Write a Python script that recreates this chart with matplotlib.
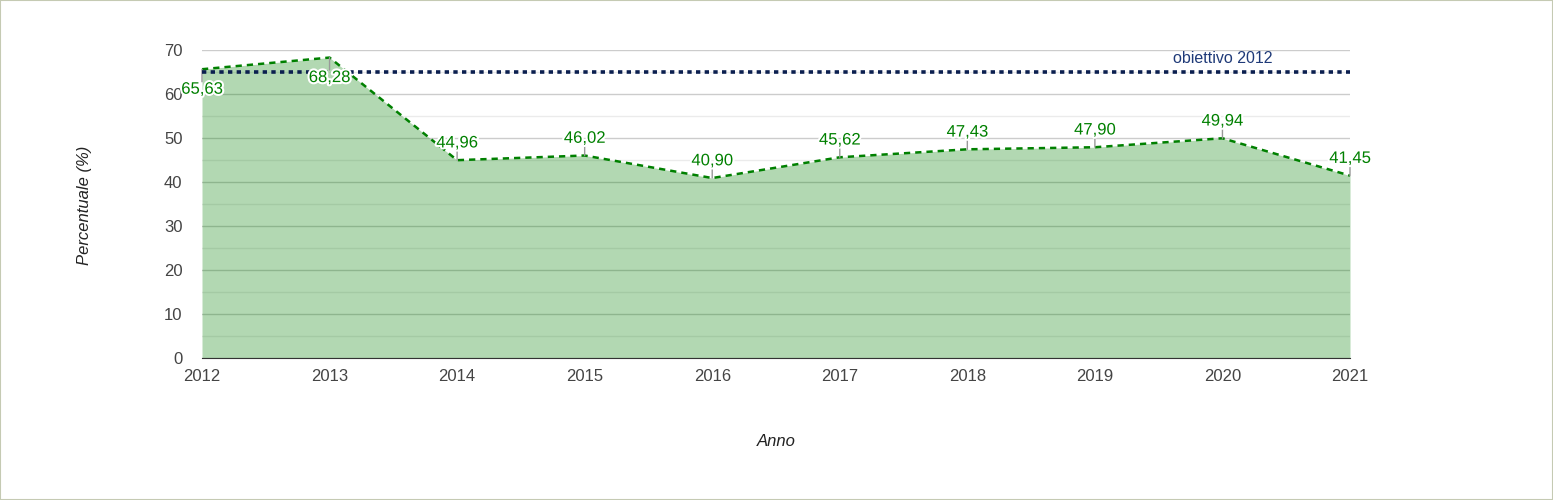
import matplotlib
matplotlib.use("Agg")
from matplotlib import pyplot as plt
from matplotlib import patheffects as pe
from matplotlib.patches import Rectangle
import numpy as np

anni = [2012, 2013, 2014, 2015, 2016, 2017, 2018, 2019, 2020, 2021]
valori = [65.63, 68.28, 44.96, 46.02, 40.90, 45.62, 47.43, 47.90, 49.94, 41.45]
obiettivo = 65
etichetta_obiettivo = "obiettivo 2012"
sotto = [2012, 2013]  # labels drawn under the point

plt.rcParams['font.family'] = ['Liberation Sans', 'DejaVu Sans']

fig = plt.figure(figsize=(15.53, 5), dpi=100)
fig.patches.append(Rectangle((0, 0), 1, 1, transform=fig.transFigure, fill=False,
                             edgecolor='#c5cab3', linewidth=1.5))
ax = fig.add_axes([202/1553, 1-358/500, (1350-202)/1553, 308/500])

ax.set_ylim(0, 70)
ax.set_xlim(anni[0], anni[-1])
ax.set_yticks(np.arange(0, 71, 10))
ax.set_yticks(np.arange(5, 70, 10), minor=True)
ax.set_xticks(anni)
ax.grid(axis='y', which='major', color='#cccccc', linewidth=1)
ax.grid(axis='y', which='minor', color='#ebebeb', linewidth=1)
ax.set_axisbelow(True)

ax.fill_between(anni, valori, 0, color='#008000', alpha=0.3, linewidth=0, zorder=2)
ax.plot(anni, valori, color='#008000', linestyle=(0, (2.5, 2)), linewidth=1.8, zorder=3)
ax.axhline(obiettivo, color='#0b1f4f', linestyle=(0, (1.2, 1.2)), linewidth=2.6, zorder=4)
ax.text(2020, obiettivo + 1.3, etichetta_obiettivo, color='#1f3a78', fontsize=11.5,
        ha='center', va='bottom', zorder=5)

halo = [pe.withStroke(linewidth=3, foreground='white')]
for a, v in zip(anni, valori):
    testo = f"{v:.2f}".replace('.', ',')
    if a in sotto:
        ax.annotate('', xy=(a, v), xytext=(0, -9), textcoords='offset points',
                    arrowprops=dict(arrowstyle='-', color='#999999', lw=1, shrinkA=0, shrinkB=0))
        ax.annotate(testo, xy=(a, v), xytext=(0, -9), textcoords='offset points',
                    ha='center', va='top', color='#008000', fontsize=12,
                    path_effects=halo, zorder=6)
    else:
        ax.annotate('', xy=(a, v), xytext=(0, 8), textcoords='offset points',
                    arrowprops=dict(arrowstyle='-', color='#999999', lw=1, shrinkA=0, shrinkB=0))
        ax.annotate(testo, xy=(a, v), xytext=(0, 7), textcoords='offset points',
                    ha='center', va='bottom', color='#008000', fontsize=12,
                    path_effects=halo, zorder=6)

for s in ['top', 'right', 'left']:
    ax.spines[s].set_visible(False)
ax.spines['bottom'].set_color('#333333')
ax.tick_params(axis='both', which='both', length=0, labelsize=12, labelcolor='#444444')
ax.tick_params(axis='x', pad=8)
ax.tick_params(axis='y', pad=14)

fig.text(85/1553, 1-205/500, 'Percentuale (%)', rotation=90, style='italic',
         fontsize=12, color='#222222', ha='center', va='center')
fig.text(776/1553, 1-441/500, 'Anno', style='italic', fontsize=12,
         color='#222222', ha='center', va='center')

fig.savefig('out.png', dpi=100)
